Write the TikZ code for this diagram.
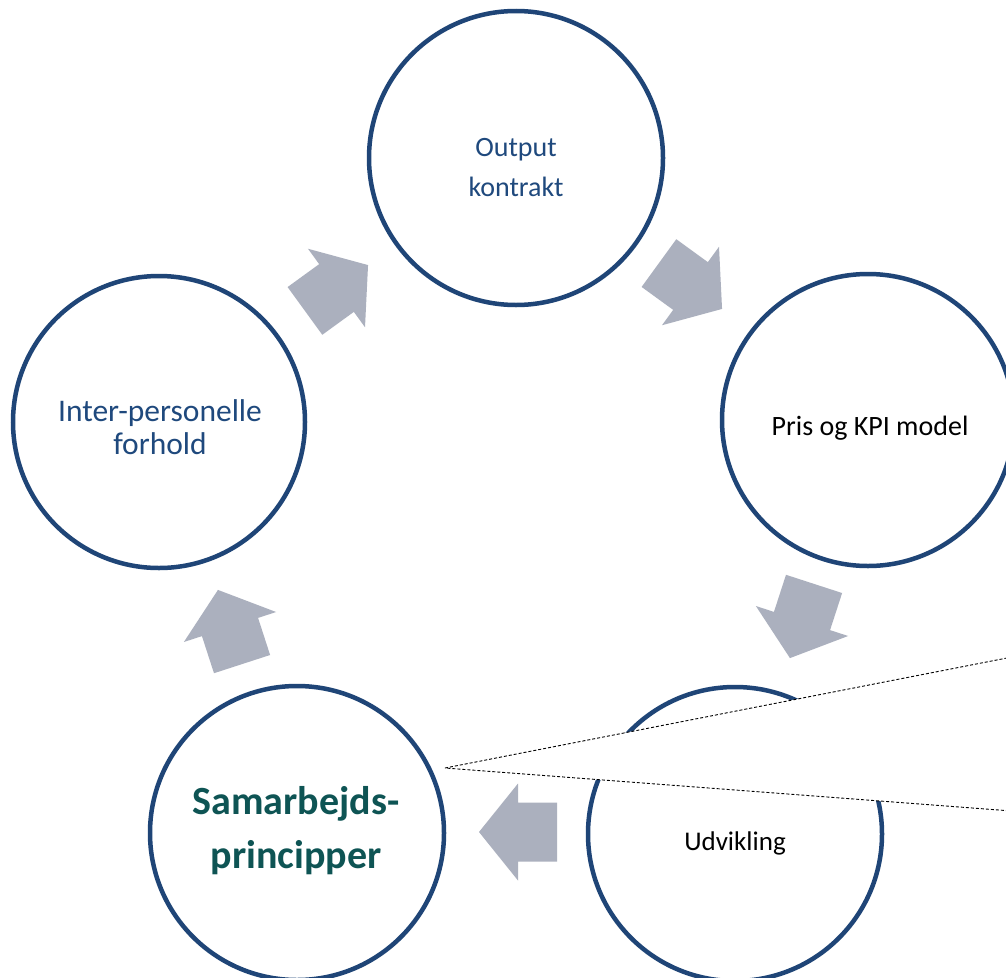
\documentclass[tikz,border=0pt]{standalone}
\usepackage{fontspec}
\setmainfont{Carlito}
\begin{document}
\definecolor{ringblue}{RGB}{31,69,119}
\definecolor{textblue}{RGB}{31,73,125}
\definecolor{textteal}{RGB}{14,84,84}
\definecolor{arrowfill}{RGB}{171,176,190}
\begin{tikzpicture}[x=1pt,y=-1pt,
  ring/.style={circle,draw=ringblue,line width=4.5pt,fill=white,inner sep=0pt},
  label/.style={inner sep=0pt,align=center},
  blockarrow/.pic={\fill[arrowfill] (39,0) -- (0,48.5) -- (0,29.5) -- (-39,29.5)
      -- (-39,-29.5) -- (0,-29.5) -- (0,-48.5) -- cycle;},
  calloutline/.style={draw=black,fill=white,line width=0.9pt,dash pattern=on 3pt off 2pt}]
  \clip (0,0) rectangle (1006,977);
  \fill[white] (0,0) rectangle (1006,977);

  % the five stages
  \node[ring,minimum size=294pt] (out) at (516,158) {};
  \node[ring,minimum size=292pt] (pris) at (868,420) {};
  \node[ring,minimum size=294pt] (udv) at (735,834) {};
  \node[ring,minimum size=294pt] (sam) at (297,833) {};
  \node[ring,minimum size=292pt] (inter) at (159,422) {};

  % block arrows between the stages
  \pic[rotate=-36] at (690.5,286) {blockarrow};
  \pic[rotate=-108] at (802,621) {blockarrow};
  \pic[rotate=180] at (518,832) {blockarrow};
  \pic[rotate=108] at (230,627) {blockarrow};
  \pic[rotate=36] at (336.5,288) {blockarrow};

  % stage texts
  \node[label,text=textblue,font=\fontsize{28}{40}\selectfont] (tout) at (516,168) {Output\\kontrakt};
  \node[label,font=\fontsize{28}{32}\selectfont] (tpris) at (870,428) {Pris og KPI model};
  \node[label,font=\fontsize{27}{32}\selectfont] (tudv) at (735,843) {Udvikling};
  \node[label,text=textteal,font=\fontsize{40}{54}\selectfont\bfseries] (tsam) at (296,831) {Samarbejds-\\principper};
  \node[label,text=textblue,font=\fontsize{31.5}{33}\selectfont] (tinter) at (160,427) {Inter-personelle\\forhold};

  % callout pointing at the collaboration principles
  \coordinate (tip) at (445,768);
  \coordinate (ctop) at (1012,657);
  \coordinate (cbot) at (1012,811);
  \path[calloutline] (tip) -- (ctop) -- (cbot) -- cycle;
\end{tikzpicture}
\end{document}
